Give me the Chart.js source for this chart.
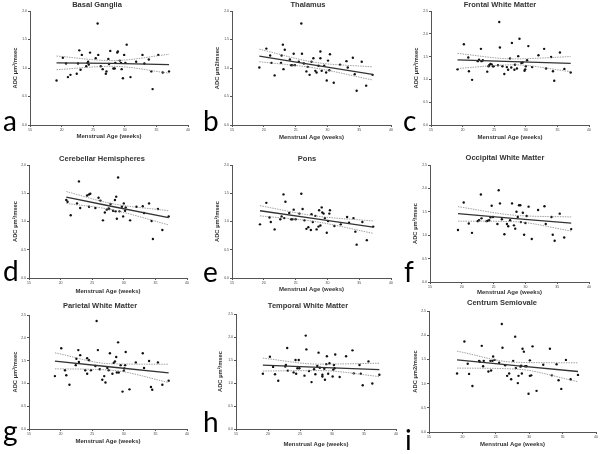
<!DOCTYPE html>
<html>
<head>
<meta charset="utf-8">
<script src="https://cdn.jsdelivr.net/npm/chart.js@4.4.0/dist/chart.umd.min.js"></script>
<style>
  body { margin: 0; background: #fff; }
  #wrap { position: relative; width: 600px; height: 454px; overflow: hidden; font-family: "Liberation Sans", Arial, sans-serif; }
  canvas { position: absolute; }
  .ttl { position: absolute; font-weight: bold; font-size: 7.5px; color: #333; transform: translateX(-50%); white-space: nowrap; line-height: 8px; }
  .lt { position: absolute; font-size: 28px; color: #000; line-height: 28px; font-family: "Lato", "DejaVu Sans", sans-serif; }
</style>
</head>
<body>
<div id="wrap"></div>
<script>
// tick labels
const xTickLabels = ['15', '20', '25', '30', '35', '40'];
const yTicks20 = ['0.0', '0.5', '1.0', '1.5', '2.0'];
const yTicks25 = ['0.0', '0.5', '1.0', '1.5', '2.0', '2.5'];

const panelTitles = ['Basal Ganglia', 'Thalamus', 'Frontal White Matter', 'Cerebellar Hemispheres', 'Pons',
  'Occipital White Matter', 'Parietal White Matter', 'Temporal White Matter', 'Centrum Semiovale'];
const panelLetters = ['a', 'b', 'c', 'd', 'e', 'f', 'g', 'h', 'i'];
const yTitles = ['ADC µm²/msec', 'ADC µm2/msec', 'ADC µm²/msec', 'ADC µm²/msec', 'ADC µm²/msec',
  'ADC µm²/msec', 'ADC µm²/msec', 'ADC µm²/msec', 'ADC µm2/msec'];
const xTitle = 'Menstrual Age (weeks)';

// a - basal ganglia
const basalAge = [19.2,20.2,20.7,21.0,21.4,22.4,22.6,22.8,23.0,23.2,23.9,24.1,24.2,24.3,24.5,25.4,25.7,25.8,26.2,26.5,27.0,27.1,27.4,27.7,27.5,28.2,28.4,28.5,28.8,28.9,29.2,29.4,29.5,29.7,29.9,30.1,30.3,30.9,31.8,32.8,33.1,33.8,34.2,34.4,35.3,36.0,37.0];
const basalAdc = [0.78,1.18,1.08,0.84,0.88,0.90,1.08,1.31,0.97,1.23,1.03,1.09,1.11,1.06,1.27,1.17,1.78,1.23,1.03,0.98,0.90,0.94,1.16,1.30,1.07,0.99,0.99,1.09,1.27,1.29,1.13,1.09,0.98,0.82,1.23,1.09,1.41,0.84,1.11,1.23,1.08,1.15,0.94,0.63,1.23,0.92,0.94];
const basalFitAge = [19.2, 28, 37.0];
const basalFit = [1.09, 1.08, 1.06];
const basalUpper = [1.21, 1.13, 1.24];
const basalLower = [0.97, 1.03, 0.91];

// b - thalamus
const thalAge = [19.3,20.4,21.0,21.2,21.7,22.7,22.8,23.0,23.1,23.3,24.1,24.3,24.5,24.7,24.9,25.5,25.9,26.0,26.3,26.7,26.9,27.2,27.5,27.8,28.1,28.3,28.6,28.9,28.9,29.1,29.5,29.8,29.9,30.1,30.3,30.4,31.0,32.0,33.0,33.2,34.0,34.3,34.6,35.4,36.1,37.1];
const thalAdc = [1.01,1.34,1.22,1.09,0.87,1.09,1.22,1.41,0.98,1.32,1.15,1.05,1.05,1.25,1.05,1.11,1.78,1.25,1.08,0.94,1.02,0.88,1.11,1.17,0.95,0.92,1.04,1.29,1.17,0.95,1.04,0.92,0.78,1.13,0.96,1.24,0.74,1.06,1.12,1.01,1.18,0.89,0.60,1.11,0.69,0.88];
const thalFitAge = [19.3, 28, 37.1];
const thalFit = [1.21, 1.05, 0.89];
const thalUpper = [1.33, 1.10, 1.02];
const thalLower = [1.11, 1.00, 0.79];

// c - frontal white matter
const frontAge = [19.2,20.2,20.9,21.0,21.5,22.4,22.6,22.9,23.0,23.2,23.9,24.1,24.2,24.4,24.6,24.8,24.9,25.6,25.8,25.9,26.3,26.6,27.0,27.2,27.5,27.7,27.8,28.2,28.3,28.6,28.8,29.0,29.3,29.5,29.8,29.9,30.0,30.2,30.4,31.0,32.0,32.9,33.2,34.0,34.3,34.5,35.4,36.1,37.1];
const frontAdc = [1.22,1.77,1.48,1.18,0.99,1.40,1.43,1.67,1.40,1.42,1.17,1.29,1.31,1.34,1.33,1.29,1.29,1.31,2.26,1.70,1.29,1.12,1.27,1.21,1.46,1.26,1.80,1.21,1.32,1.24,1.51,1.89,1.36,1.37,1.19,1.22,1.29,1.42,1.73,1.27,1.53,1.67,1.24,1.49,1.18,0.97,1.59,1.23,1.15];
const frontFitAge = [19.2, 28, 37.1];
const frontFit = [1.43, 1.39, 1.35];
const frontUpper = [1.57, 1.45, 1.50];
const frontLower = [1.24, 1.32, 1.17];

// d - cerebellar hemispheres
const cereAge = [20.9,21.1,21.6,22.6,22.9,23.1,24.2,24.5,24.7,24.5,25.5,26.0,26.3,26.7,27.0,27.3,27.6,27.7,27.9,28.3,28.6,28.7,28.8,28.9,29.1,29.3,29.7,29.9,30.0,30.2,30.3,31.0,32.0,33.0,33.2,34.0,34.4,34.6,35.4,36.1,37.1];
const cereAdc = [1.38,1.35,1.11,1.32,1.71,1.24,1.46,1.48,1.49,1.26,1.24,1.42,1.37,1.02,1.16,1.21,1.23,1.22,1.31,1.19,1.38,1.18,1.44,1.05,1.78,1.18,1.26,1.09,1.32,1.19,1.25,1.02,1.26,1.27,1.15,1.32,1.01,0.69,1.22,0.85,1.09];
const cereFitAge = [20.9, 28, 37.1];
const cereFit = [1.43, 1.27, 1.07];
const cereUpper = [1.53, 1.32, 1.19];
const cereLower = [1.32, 1.21, 0.94];

// e - pons
const ponsAge = [19.4,20.4,20.9,21.1,21.7,22.6,22.8,23.1,23.2,23.4,24.0,24.3,24.5,24.7,25.0,25.6,25.9,26.1,26.4,26.7,27.0,27.4,27.5,27.7,28.1,28.3,28.6,28.7,28.9,29.1,29.2,29.4,29.6,29.9,30.1,30.3,30.4,31.1,32.1,33.1,33.4,34.1,34.4,34.6,35.5,36.2,37.2];
const ponsAdc = [0.95,1.33,1.07,0.99,0.86,1.04,1.09,1.48,1.06,1.35,1.15,1.04,1.04,1.21,1.04,1.14,1.49,1.22,1.02,0.87,0.90,0.85,1.13,0.99,1.10,0.86,0.91,1.20,0.93,1.25,1.16,1.14,1.06,0.80,1.01,1.14,1.20,0.92,0.95,1.08,0.98,1.06,0.82,0.59,0.99,0.67,0.91];
const ponsFitAge = [19.4, 28, 37.2];
const ponsFit = [1.19, 1.05, 0.90];
const ponsUpper = [1.28, 1.10, 1.01];
const ponsLower = [1.10, 1.00, 0.79];

// f - occipital white matter
const occAge = [19.4,20.3,21.1,21.6,22.5,22.7,23.0,23.1,23.9,24.1,24.3,24.5,24.7,24.9,25.6,25.8,26.0,26.3,26.7,27.1,27.3,27.6,27.9,28.2,28.4,28.6,28.8,29.0,29.2,29.3,29.6,29.8,30.0,30.2,30.5,31.0,32.0,33.0,33.2,34.1,34.3,34.6,35.4,36.1,37.2];
const occAdc = [1.11,1.70,1.25,1.05,1.30,1.32,1.87,1.36,1.30,1.31,1.32,1.38,1.63,1.39,1.24,1.96,1.68,1.34,1.02,1.24,1.19,1.32,1.68,1.21,1.14,1.50,1.39,1.64,1.64,1.28,1.48,1.01,1.26,1.41,1.61,0.92,1.54,1.62,1.24,1.39,1.01,0.88,1.46,0.95,1.13];
const occFitAge = [19.4, 28, 37.2];
const occFit = [1.46, 1.36, 1.26];
const occUpper = [1.61, 1.43, 1.39];
const occLower = [1.30, 1.29, 1.09];

// g - parietal white matter
const parAge = [19.1,20.1,20.7,20.9,21.4,22.4,22.5,22.8,22.9,23.1,23.9,24.2,24.2,24.5,24.8,25.5,25.7,25.9,26.2,26.6,26.9,27.1,27.4,27.8,27.6,28.2,28.4,28.6,28.8,28.9,29.1,29.2,29.5,29.8,30.0,30.1,30.2,30.3,30.9,31.9,33.0,33.2,34.0,34.3,34.5,35.4,36.1,37.1];
const parAdc = [1.16,1.77,1.29,1.18,0.97,1.40,1.54,1.73,1.47,1.62,1.29,1.21,1.55,1.51,1.29,1.38,2.37,1.73,1.31,1.08,1.16,1.02,1.34,1.66,1.29,1.21,1.45,1.48,1.58,1.24,1.90,1.24,1.40,0.82,1.28,1.33,1.40,1.69,0.87,1.46,1.66,1.34,1.49,0.92,0.86,1.46,0.97,1.06];
const parFitAge = [19.1, 28, 37.1];
const parFit = [1.49, 1.36, 1.23];
const parUpper = [1.67, 1.43, 1.42];
const parLower = [1.32, 1.29, 1.02];

// h - temporal white matter
const tempAge = [19.2,20.3,20.8,21.1,21.6,22.7,22.8,23.0,23.1,24.0,24.3,24.4,24.6,24.8,24.9,25.7,25.9,26.0,26.4,26.8,27.2,27.4,27.7,27.9,28.1,28.5,28.5,28.8,28.9,29.1,29.2,29.4,29.6,30.1,30.2,30.3,30.4,30.5,31.2,32.2,33.2,33.4,34.3,34.5,34.8,35.7,36.3,37.4];
const tempAdc = [1.20,1.57,1.35,1.19,1.05,1.36,1.39,1.76,1.27,1.23,1.50,1.20,1.32,1.50,1.32,1.16,2.03,1.73,1.26,1.02,1.30,1.19,1.37,1.66,1.33,1.18,1.14,1.31,1.07,1.41,1.58,1.20,1.43,1.14,1.29,1.39,1.32,1.62,1.13,1.58,1.71,1.21,1.39,1.20,0.95,1.47,0.99,1.18];
const tempFitAge = [19.2, 28, 37.4];
const tempFit = [1.39, 1.34, 1.29];
const tempUpper = [1.54, 1.41, 1.43];
const tempLower = [1.26, 1.27, 1.14];

// i - centrum semiovale
const centAge = [19.2,20.3,20.8,21.0,21.5,22.5,22.6,22.9,23.1,23.2,23.9,24.2,24.3,24.5,24.6,24.8,25.5,25.9,26.0,26.4,26.7,27.0,27.3,27.6,27.9,28.0,28.3,28.4,28.7,28.8,28.9,29.0,29.2,29.4,29.6,29.9,30.1,30.1,30.3,30.5,31.1,32.1,33.1,33.4,34.1,34.4,34.8,35.5,36.2,37.3];
const centAdc = [1.21,1.87,1.41,1.20,0.95,1.47,1.45,1.78,1.36,1.47,1.25,1.47,1.27,1.47,1.56,1.49,1.43,2.23,1.74,1.38,1.16,1.21,1.09,1.47,1.97,1.32,1.01,1.16,1.35,1.37,1.21,1.72,1.66,1.36,1.36,0.79,1.48,1.16,1.17,1.77,0.85,1.39,1.72,1.17,1.40,1.07,0.89,1.49,1.09,1.18];
const centFitAge = [19.2, 28, 37.3];
const centFit = [1.49, 1.37, 1.25];
const centUpper = [1.67, 1.44, 1.43];
const centLower = [1.32, 1.30, 1.04];

const series = [
  [basalAge, basalAdc, basalFitAge, basalFit, basalUpper, basalLower, 2.0],
  [thalAge, thalAdc, thalFitAge, thalFit, thalUpper, thalLower, 2.0],
  [frontAge, frontAdc, frontFitAge, frontFit, frontUpper, frontLower, 2.5],
  [cereAge, cereAdc, cereFitAge, cereFit, cereUpper, cereLower, 2.0],
  [ponsAge, ponsAdc, ponsFitAge, ponsFit, ponsUpper, ponsLower, 2.0],
  [occAge, occAdc, occFitAge, occFit, occUpper, occLower, 2.5],
  [parAge, parAdc, parFitAge, parFit, parUpper, parLower, 2.5],
  [tempAge, tempAdc, tempFitAge, tempFit, tempUpper, tempLower, 2.5],
  [centAge, centAdc, centFitAge, centFit, centUpper, centLower, 2.5]
];

// panel geometry: canvas origin/height, plot box (l,t,r,b), axis title spots, title centre, letter baseline
const boxes = [
  {x: 0,   y: 0,   h: 150, l: 30, t: 11, r: 188, b: 125, xt: 136, yt: 15, tc: 97,  ty: 5,  lx: 3,   lb: 131},
  {x: 200, y: 0,   h: 150, l: 32, t: 11, r: 191, b: 125, xt: 137, yt: 17, tc: 108, ty: 5,  lx: 203, lb: 131},
  {x: 400, y: 0,   h: 150, l: 31, t: 11, r: 189, b: 125, xt: 137, yt: 16, tc: 100, ty: 5,  lx: 403, lb: 131},
  {x: 0,   y: 150, h: 150, l: 29, t: 15, r: 187, b: 128, xt: 141, yt: 15, tc: 102, ty: 9,  lx: 3,   lb: 281},
  {x: 200, y: 150, h: 150, l: 32, t: 15, r: 191, b: 128, xt: 139, yt: 17, tc: 107, ty: 9,  lx: 203, lb: 282},
  {x: 400, y: 150, h: 150, l: 30, t: 15, r: 189, b: 132, xt: 142, yt: 15, tc: 105, ty: 8,  lx: 404, lb: 282},
  {x: 0,   y: 300, h: 154, l: 29, t: 15, r: 187, b: 129, xt: 141, yt: 15, tc: 100, ty: 6,  lx: 3,   lb: 441},
  {x: 200, y: 300, h: 154, l: 36, t: 14, r: 197, b: 129, xt: 144, yt: 20, tc: 108, ty: 6,  lx: 203, lb: 432},
  {x: 400, y: 300, h: 154, l: 29, t: 11, r: 196, b: 132, xt: 144, yt: 15, tc: 102, ty: 3,  lx: 405, lb: 450}
];

Chart.defaults.font.family = '"Liberation Sans", Arial, sans-serif';
const wrap = document.getElementById('wrap');

function pts(xs, ys) {
  return xs.map((v, i) => ({x: v, y: ys[i]}));
}

series.forEach((s, k) => {
  const g = boxes[k];
  const [age, adc, fitAge, fit, upper, lower, yMax] = s;
  const yLabels = yMax === 2.0 ? yTicks20 : yTicks25;

  const canvas = document.createElement('canvas');
  canvas.width = 200;
  canvas.height = g.h;
  canvas.style.left = g.x + 'px';
  canvas.style.top = g.y + 'px';
  wrap.appendChild(canvas);

  const ttl = document.createElement('div');
  ttl.className = 'ttl';
  ttl.textContent = panelTitles[k];
  ttl.style.left = (g.x + g.tc) + 'px';
  ttl.style.top = (g.y + g.ty - 4) + 'px';
  wrap.appendChild(ttl);

  const lt = document.createElement('div');
  lt.className = 'lt';
  lt.textContent = panelLetters[k];
  lt.style.left = g.lx + 'px';
  lt.style.top = (g.lb - 25) + 'px';
  wrap.appendChild(lt);

  const band = {
    showLine: true, borderColor: '#8a8a8a', borderWidth: 0.8, borderDash: [1.5, 1],
    pointRadius: 0, cubicInterpolationMode: 'monotone'
  };

  new Chart(canvas.getContext('2d'), {
    type: 'scatter',
    data: {
      datasets: [
        Object.assign({data: pts(fitAge, upper)}, band),
        Object.assign({data: pts(fitAge, lower)}, band),
        {data: pts(fitAge, fit), showLine: true, borderColor: '#333', borderWidth: 1.3, pointRadius: 0},
        {data: pts(age, adc), pointRadius: 1.2, backgroundColor: '#111', borderWidth: 0}
      ]
    },
    options: {
      responsive: false,
      animation: false,
      devicePixelRatio: 1,
      layout: {padding: {top: g.t, right: 200 - g.r, left: 0, bottom: 0}},
      plugins: {legend: {display: false}, tooltip: {enabled: false}},
      scales: {
        x: {
          type: 'linear', min: 15, max: 40,
          ticks: {stepSize: 5, font: {size: 3.5}, color: '#444', padding: 1, maxRotation: 0,
            callback: (v, i) => xTickLabels[i]},
          grid: {drawOnChartArea: false, tickLength: 2, color: '#555'},
          border: {color: '#555'},
          title: {display: true, text: xTitle, color: '#333', font: {size: 6, weight: 'bold'},
            padding: {top: 0, bottom: g.h - g.xt - 3.6}},
          afterFit: (sc) => { sc.height = g.h - g.b; }
        },
        y: {
          min: 0, max: yMax,
          ticks: {stepSize: 0.5, font: {size: 3.5}, color: '#444', padding: 1,
            callback: (v, i) => yLabels[i]},
          grid: {drawOnChartArea: false, tickLength: 2, color: '#555'},
          border: {color: '#555'},
          title: {display: true, text: yTitles[k], color: '#333', font: {size: 5.8, weight: 'bold'},
            padding: {top: g.yt - 3.5, bottom: 0}},
          afterFit: (sc) => { sc.width = g.l; }
        }
      }
    }
  });
});
</script>
</body>
</html>
